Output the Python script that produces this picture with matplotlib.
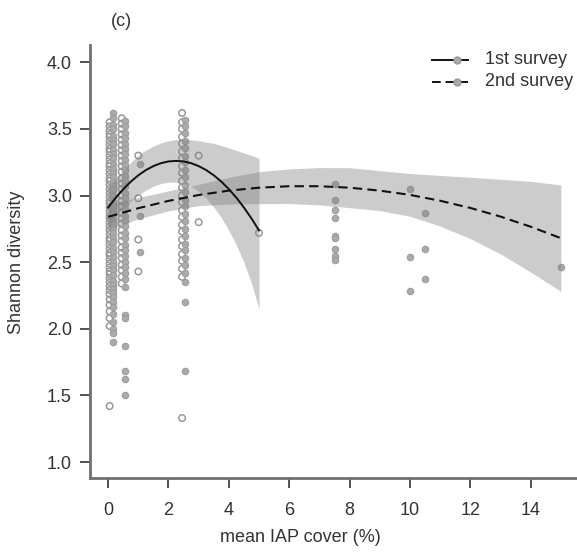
import numpy as np
import matplotlib
matplotlib.use("Agg")
import matplotlib.pyplot as plt
from matplotlib.lines import Line2D

plt.rcParams['font.family'] = ['Liberation Sans', 'DejaVu Sans']

# ---------------- data ----------------
# points, 1st survey (open circles)
s1_x0 = 0.05
s1_y0 = [3.55, 3.52, 3.49, 3.46, 3.44, 3.41, 3.38, 3.35, 3.33, 3.30, 3.27, 3.24, 3.22,
         3.19, 3.16, 3.13, 3.11, 3.08, 3.05, 3.02, 2.99, 2.96, 2.94, 2.91, 2.88, 2.85,
         2.83, 2.80, 2.77, 2.74, 2.71, 2.68, 2.66, 2.63, 2.60, 2.57, 2.55, 2.52, 2.49,
         2.46, 2.43, 2.41, 2.38, 2.35, 2.32, 2.29, 2.26, 2.22, 2.18, 2.13, 2.08, 2.02, 1.42]
s1_x05 = 0.45
s1_y05 = [3.58, 3.54, 3.50, 3.46, 3.42, 3.38, 3.34, 3.30, 3.26, 3.22, 3.18, 3.13, 3.09,
          3.05, 3.00, 2.96, 2.92, 2.87, 2.83, 2.79, 2.74, 2.70, 2.66, 2.61, 2.57, 2.53,
          2.48, 2.44, 2.39, 2.34]
s1_x1 = 1.0
s1_y1 = [3.30, 2.98, 2.67, 2.43]
s1_x25 = 2.45
s1_y25 = [3.62, 3.55, 3.50, 3.44, 3.39, 3.33, 3.28, 3.22, 3.17, 3.11, 3.06, 3.00, 2.95,
          2.89, 2.84, 2.78, 2.73, 2.67, 2.62, 2.56, 2.51, 2.45, 2.39, 1.33]
s1_x3 = 3.0
s1_y3 = [3.30, 2.80]
s1_x5 = 5.0
s1_y5 = [2.72]

# points, 2nd survey (filled circles)
s2_x0 = 0.15
s2_y0 = [3.62, 3.58, 3.53, 3.50, 3.45, 3.42, 3.39, 3.34, 3.31, 3.28, 3.24, 3.20, 3.17,
         3.14, 3.10, 3.07, 3.04, 3.00, 2.96, 2.93, 2.89, 2.86, 2.82, 2.79, 2.76, 2.72,
         2.68, 2.65, 2.61, 2.58, 2.54, 2.50, 2.47, 2.44, 2.40, 2.36, 2.33, 2.30, 2.27,
         2.24, 2.20, 2.16, 2.11, 2.05, 2.00, 1.97, 1.90]
s2_x05 = 0.55
s2_y05 = [3.56, 3.52, 3.47, 3.43, 3.39, 3.35, 3.31, 3.27, 3.23, 3.19, 3.15, 3.11, 3.07,
          3.02, 2.98, 2.94, 2.90, 2.85, 2.81, 2.77, 2.72, 2.68, 2.63, 2.59, 2.55, 2.50,
          2.46, 2.42, 2.37, 2.31, 2.10, 2.08, 1.87, 1.68, 1.62, 1.50]
s2_x1 = 1.05
s2_y1 = [3.24, 2.85, 2.58]
s2_x25 = 2.55
s2_y25 = [3.57, 3.52, 3.47, 3.41, 3.36, 3.30, 3.25, 3.19, 3.14, 3.08, 3.03, 2.97, 2.92,
          2.86, 2.81, 2.75, 2.70, 2.64, 2.59, 2.53, 2.48, 2.42, 2.35, 2.20, 1.68]
s2_x75 = 7.5
s2_y75 = [3.09, 2.97, 2.89, 2.83, 2.70, 2.68, 2.60, 2.55, 2.52]
s2_x10 = 10.0
s2_y10 = [3.05, 2.54, 2.28]
s2_x105 = 10.5
s2_y105 = [2.87, 2.60, 2.37]
s2_x15 = 15.0
s2_y15 = [2.46]

# fitted curves with confidence bands
fit1_x = [0.0, 0.25, 0.5, 0.75, 1.0, 1.25, 1.5, 1.75, 2.0, 2.25, 2.5, 2.75, 3.0,
          3.25, 3.5, 3.75, 4.0, 4.25, 4.5, 4.75, 5.0]
fit1_y = [2.910, 2.983, 3.048, 3.104, 3.152, 3.191, 3.221, 3.243, 3.256, 3.260, 3.256,
          3.243, 3.221, 3.191, 3.152, 3.105, 3.048, 2.984, 2.910, 2.828, 2.738]
fit1_up = [3.060, 3.128, 3.188, 3.249, 3.302, 3.341, 3.371, 3.395, 3.411, 3.420, 3.421,
           3.418, 3.411, 3.401, 3.392, 3.375, 3.358, 3.339, 3.320, 3.300, 3.280]
fit1_lo = [2.760, 2.838, 2.908, 2.959, 3.002, 3.041, 3.071, 3.091, 3.101, 3.100, 3.091,
           3.068, 3.031, 2.981, 2.912, 2.835, 2.738, 2.629, 2.500, 2.340, 2.150]

fit2_x = [0, 1, 2, 3, 4, 5, 6, 7, 8, 9, 10, 11, 12, 13, 14, 15]
fit2_y = [2.84, 2.905, 2.96, 3.004, 3.037, 3.059, 3.07, 3.07, 3.059, 3.037, 3.005,
          2.961, 2.907, 2.842, 2.766, 2.68]
fit2_up = [2.94, 2.985, 3.035, 3.084, 3.137, 3.179, 3.20, 3.21, 3.209, 3.187, 3.165,
           3.151, 3.137, 3.122, 3.106, 3.08]
fit2_lo = [2.74, 2.825, 2.885, 2.924, 2.937, 2.939, 2.94, 2.93, 2.909, 2.887, 2.845,
           2.771, 2.677, 2.562, 2.426, 2.28]

x_ticks = [0, 2, 4, 6, 8, 10, 12, 14]
y_ticks = [1.0, 1.5, 2.0, 2.5, 3.0, 3.5, 4.0]
legend_labels = ['1st survey', '2nd survey']

# ---------------- figure ----------------
W, H = 577, 552
fig = plt.figure(figsize=(W / 100, H / 100), dpi=100)
ax = fig.add_axes([90 / W, 1 - 478 / H, (579 - 90) / W, (478 - 45) / H])
ax.set_xlim(-0.6, 15.6)
ax.set_ylim(0.88, 4.13)

pt_col = '#999999'
s1_groups = [(s1_x0, s1_y0), (s1_x05, s1_y05), (s1_x1, s1_y1), (s1_x25, s1_y25),
             (s1_x3, s1_y3), (s1_x5, s1_y5)]
s2_groups = [(s2_x0, s2_y0), (s2_x05, s2_y05), (s2_x1, s2_y1), (s2_x25, s2_y25),
             (s2_x75, s2_y75), (s2_x10, s2_y10), (s2_x105, s2_y105), (s2_x15, s2_y15)]
for gx, gy in s1_groups:
    ax.scatter([gx] * len(gy), gy, s=22, facecolors='none', edgecolors=pt_col,
               linewidths=1.1, zorder=2)
for gx, gy in s2_groups:
    ax.scatter([gx] * len(gy), gy, s=22, facecolors='#ababab', edgecolors=pt_col,
               linewidths=0.7, zorder=2)

band_col = '#808080'
ax.fill_between(fit1_x, fit1_lo, fit1_up, color=band_col, alpha=0.4, lw=0, zorder=3)
ax.fill_between(fit2_x, fit2_lo, fit2_up, color=band_col, alpha=0.4, lw=0, zorder=3)

ax.plot(fit1_x, fit1_y, color='#111111', lw=1.4, zorder=4)
ax.plot(fit2_x, fit2_y, color='#111111', lw=1.5, ls=(0, (4.5, 2.5)), zorder=4)

# axes styling
for s in ['top', 'right']:
    ax.spines[s].set_visible(False)
for s in ['left', 'bottom']:
    ax.spines[s].set_color('#707070')
    ax.spines[s].set_linewidth(2.0)
ax.set_xticks(x_ticks)
ax.set_yticks(y_ticks)
ax.set_xticklabels([str(v) for v in x_ticks])
ax.set_yticklabels([f'{v:.1f}' for v in y_ticks])
ax.tick_params(axis='both', colors='#444444', labelcolor='#333333', labelsize=13,
               length=7, width=1.3)
ax.tick_params(axis='x', pad=10)
ax.tick_params(axis='y', pad=6)

ax.set_xlabel('mean IAP cover (%)', fontsize=13, color='#333333')
ax.set_ylabel('Shannon diversity', fontsize=13, color='#333333')
ax.xaxis.set_label_coords((300 - 90) / (579 - 90), -(537 - 478 - 8) / (478 - 45))
ax.yaxis.set_label_coords(-(90 - 18 - 7) / (579 - 90), (478 - 262) / (478 - 45))

fig.text(121 / W, 1 - 22 / H, '(c)', ha='center', va='center', fontsize=13, color='#333333')

# legend drawn in figure coordinates
rows = [(60, '-', 'none'), (82, (0, (4.5, 2.5)), '#ababab')]
for (ypx, ls, fc), lab in zip(rows, legend_labels):
    yf = 1 - ypx / H
    fig.add_artist(Line2D([432 / W, 468 / W], [yf, yf], transform=fig.transFigure,
                          color='#111111', lw=1.4, ls=ls))
    fig.add_artist(Line2D([457 / W], [yf], transform=fig.transFigure, marker='o',
                          markersize=5, markerfacecolor='#ababab', markeredgecolor=pt_col,
                          ls='none'))
    fig.text(485 / W, yf, lab, ha='left', va='center', fontsize=13, color='#333333')

fig.savefig('out.png', dpi=100)
